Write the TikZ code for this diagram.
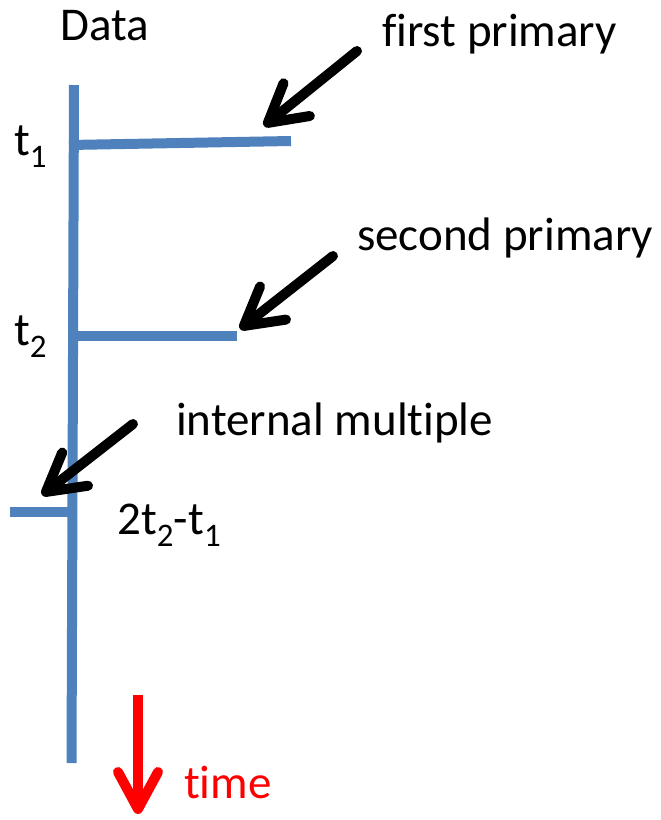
\documentclass[tikz,border=0pt]{standalone}
\usepackage{fontspec}
\setmainfont[Ligatures={NoCommon}]{Carlito}
\usetikzlibrary{arrows.meta}
\definecolor{axisblue}{RGB}{79,129,189}
\begin{document}
\begin{tikzpicture}[x=1pt,y=-1pt,
  bluebar/.style={draw=axisblue,line width=10pt},
  pointer/.style={draw=black,line width=10pt,line cap=round,
    -{Straight Barb[length=37pt,width=42pt,line cap=round,line join=round]}},
  timearrow/.style={draw=red,line width=10pt,line cap=butt,
    -{Straight Barb[length=37pt,width=40pt,line cap=round,line join=round]}},
  lbl/.style={inner sep=0pt,anchor=base west,font=\fontsize{47}{52}\selectfont}]
\useasboundingbox (0,0) rectangle (661,820);
% axis and events
\coordinate (axtop) at (74,85);
\coordinate (axbot) at (71.5,763);
\draw[bluebar] (axtop) -- (axbot);
\coordinate (p1a) at (69,145);
\coordinate (p1b) at (291,141);
\coordinate (p2a) at (69,336);
\coordinate (p2b) at (237,336);
\coordinate (ima) at (10,511.5);
\coordinate (imb) at (73,511.5);
\draw[bluebar] (p1a) -- (p1b);
\draw[bluebar] (p2a) -- (p2b);
\draw[bluebar] (ima) -- (imb);
% labels
\node[lbl] (data) at (60,40) {Data};
\node[lbl] (t1) at (14,155) {t\textsubscript{1}};
\node[lbl] (t2) at (14,345) {t\textsubscript{2}};
\node[lbl] (tm) at (117,534) {2t\textsubscript{2}-t\textsubscript{1}};
\node[lbl] (fp) at (382,46) {first primary};
\node[lbl] (sp) at (357,250) {second primary};
\node[lbl] (im) at (176,435) {internal multiple};
\node[lbl,text=red] (time) at (184,798) {time};
% pointers
\coordinate (a1s) at (357,51);
\coordinate (a1e) at (264,126);
\coordinate (a2s) at (333,256);
\coordinate (a2e) at (240,329);
\coordinate (a3s) at (133,424);
\coordinate (a3e) at (42,495);
\draw[pointer] (a1s) -- (a1e);
\draw[pointer] (a2s) -- (a2e);
\draw[pointer] (a3s) -- (a3e);
\coordinate (ts) at (138,695);
\coordinate (te) at (138,814);
\draw[timearrow] (ts) -- (te);
\end{tikzpicture}
\end{document}
